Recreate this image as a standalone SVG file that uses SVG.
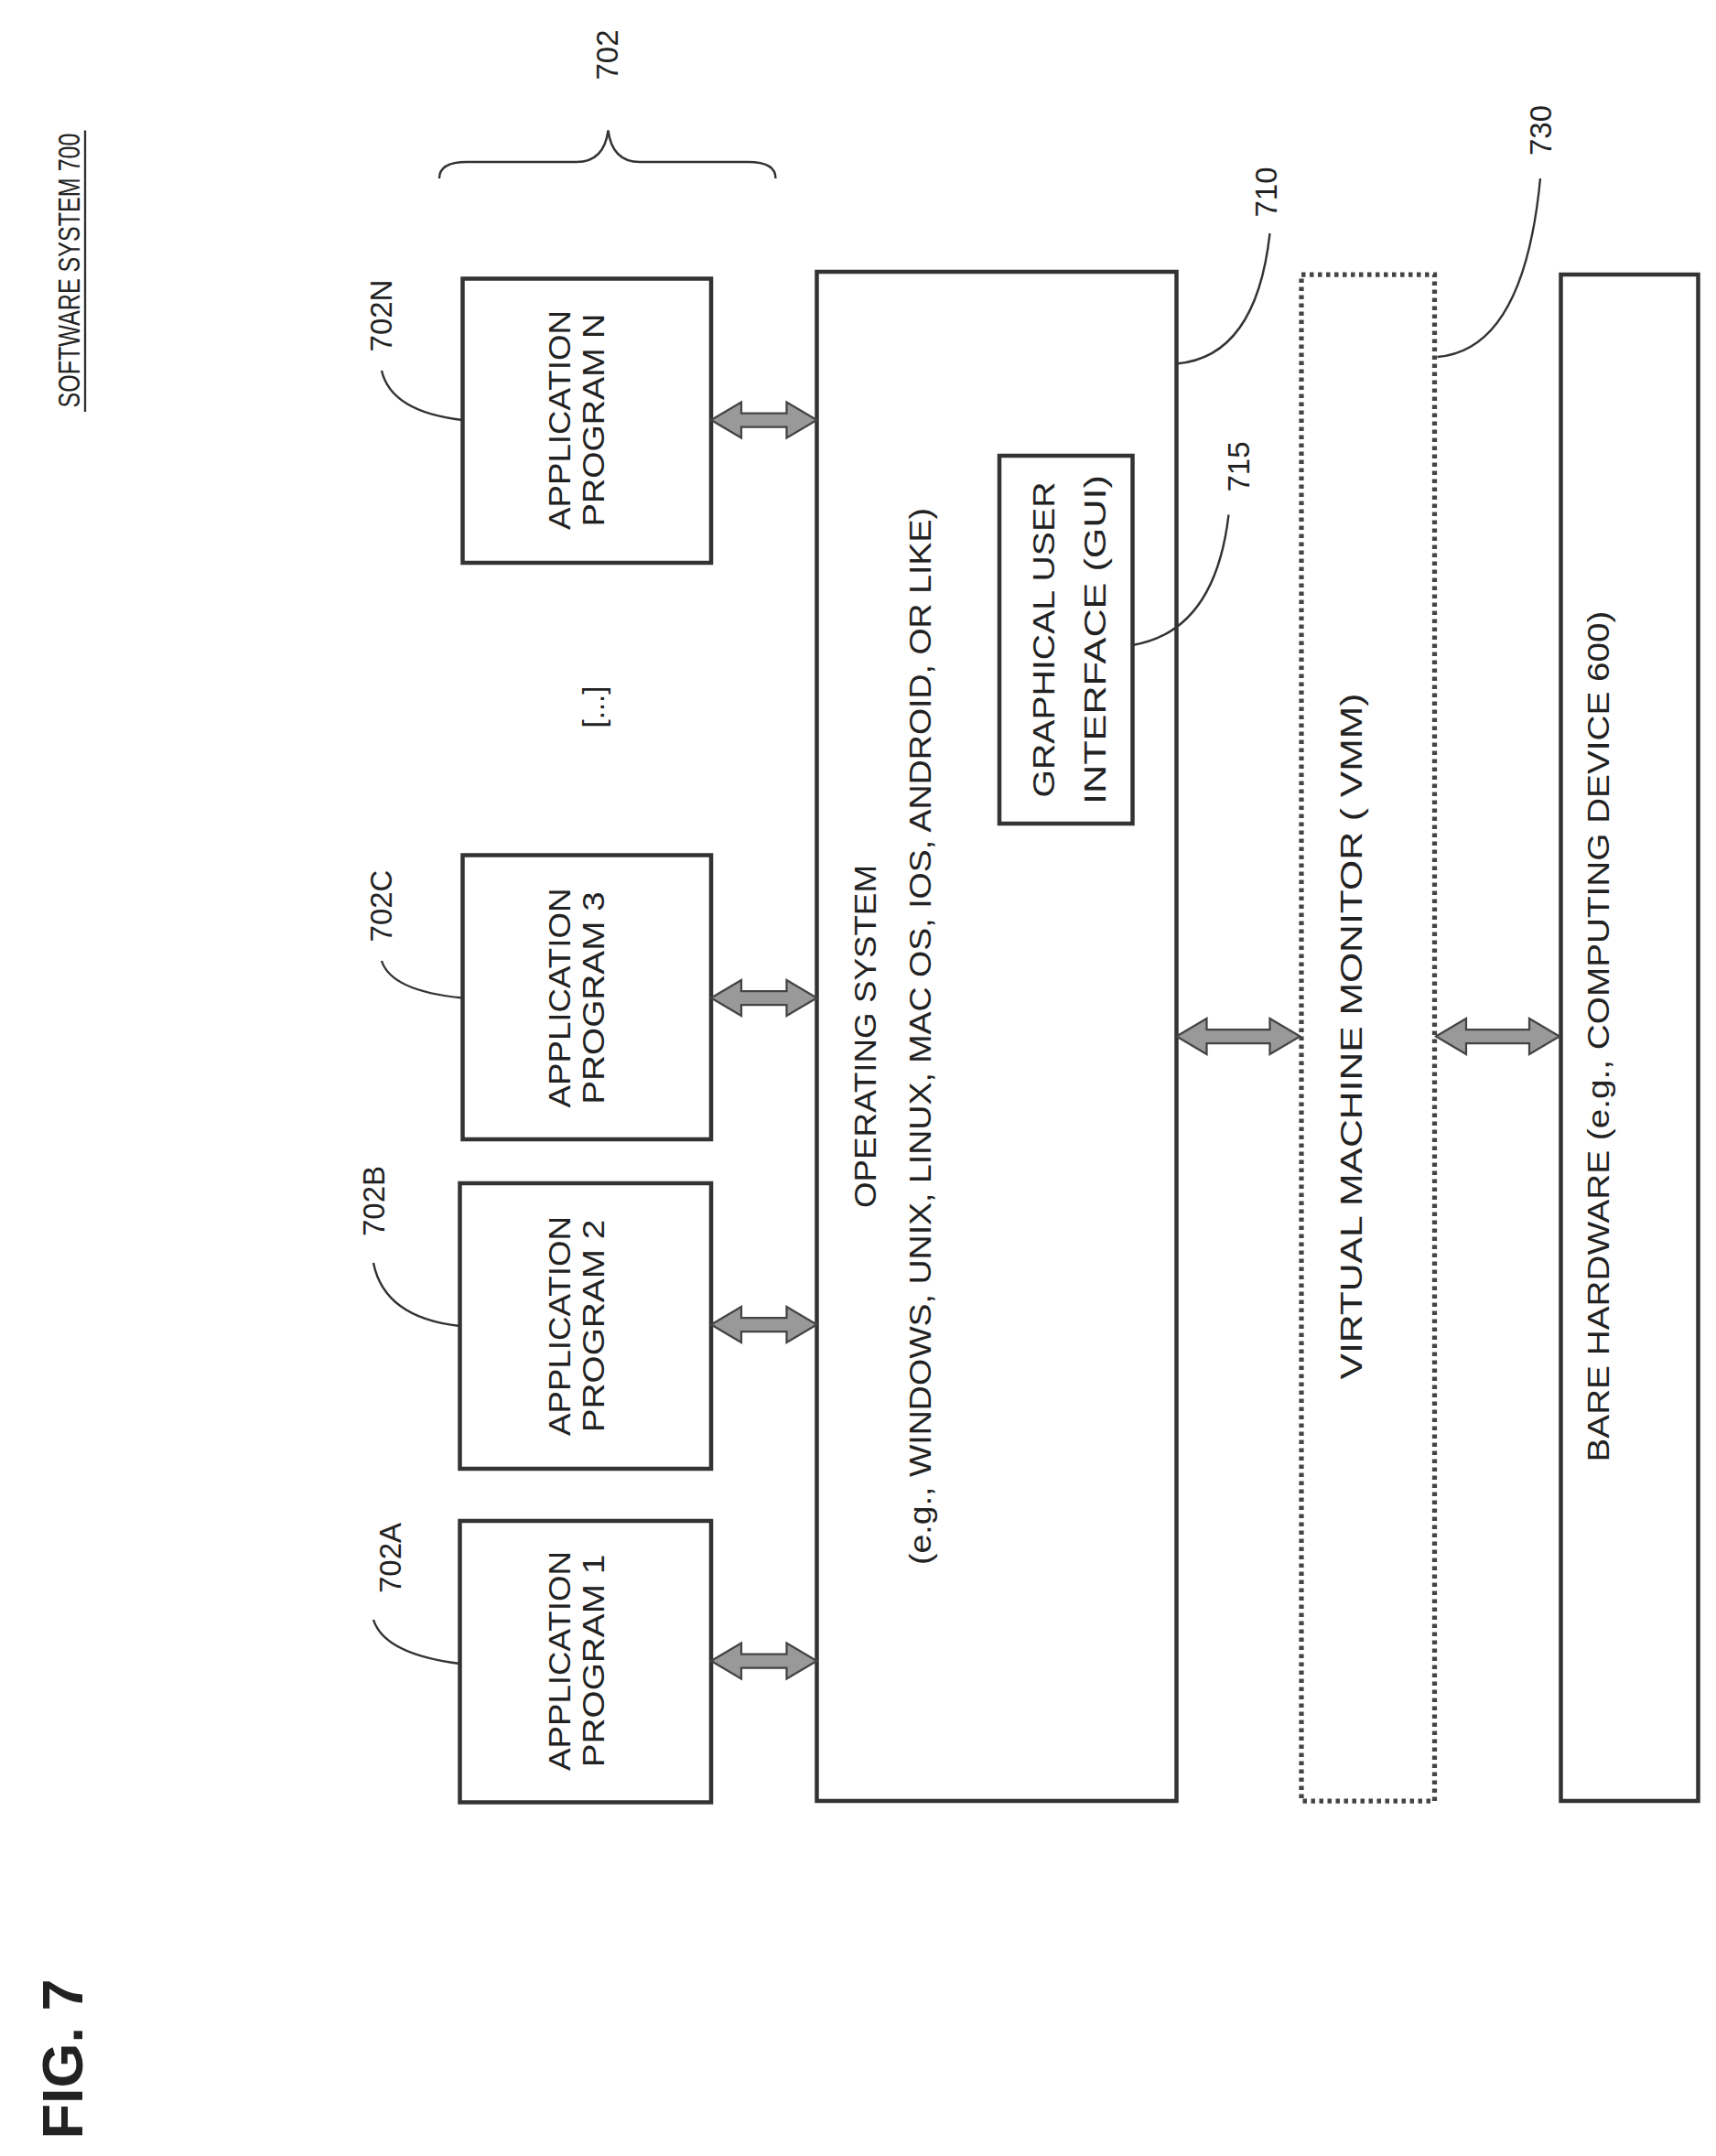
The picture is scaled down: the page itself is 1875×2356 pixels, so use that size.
<svg xmlns="http://www.w3.org/2000/svg" width="1875" height="2356" viewBox="0 0 1875 2356">
<style>
.b{fill:none;stroke:#333;stroke-width:3}
.d{fill:none;stroke:#444;stroke-width:3.5;stroke-dasharray:3 3}
.l{fill:none;stroke:#333;stroke-width:1.6}
.t{font-family:"Liberation Sans",Arial,sans-serif;font-size:22px;fill:#222;text-anchor:middle}
.a{fill:#999;stroke:#444;stroke-width:1.5}
</style>
<defs>
<polygon id="a77" class="a" points="0,0 22,-13 22,-5 55,-5 55,-13 77,0 55,13 55,5 22,5 22,13"/>
<polygon id="a90" class="a" points="0,0 22,-13 22,-5 68,-5 68,-13 90,0 68,13 68,5 22,5 22,13"/>
</defs>
<rect width="1875" height="2356" fill="#fff"/>
<g transform="scale(1.5)">
<g id="title">
<text class="t" transform="translate(58,197) rotate(-90)" textLength="200" lengthAdjust="spacingAndGlyphs">SOFTWARE SYSTEM 700</text>
<line x1="62" y1="95" x2="62" y2="300" class="l"/>
<text class="t" style="font-size:42px;font-weight:bold" transform="translate(60,1500) rotate(-90)">FIG. 7</text>
</g>
<g id="brace">
<path class="l" d="M320,130 Q320,118 340,118 L420,118 Q440,118 443,95 Q446,118 466,118 L545,118 Q565,118 565,130"/>
<text class="t" transform="translate(450,40) rotate(-90)">702</text>
</g>
<g id="app1">
<rect class="b" x="335" y="1108" width="183" height="205"/>
<text class="t" transform="translate(415,1210) rotate(-90)" textLength="160" lengthAdjust="spacingAndGlyphs">APPLICATION</text>
<text class="t" transform="translate(440,1210) rotate(-90)" textLength="155" lengthAdjust="spacingAndGlyphs">PROGRAM 1</text>
<text class="t" transform="translate(292,1135) rotate(-90)">702A</text>
<path class="l" d="M272,1180 Q280,1205 335,1212"/>
</g>
<g id="app2">
<rect class="b" x="335" y="862" width="183" height="208"/>
<text class="t" transform="translate(415,966) rotate(-90)" textLength="160" lengthAdjust="spacingAndGlyphs">APPLICATION</text>
<text class="t" transform="translate(440,966) rotate(-90)" textLength="155" lengthAdjust="spacingAndGlyphs">PROGRAM 2</text>
<text class="t" transform="translate(280,875) rotate(-90)">702B</text>
<path class="l" d="M272,920 Q280,960 335,966"/>
</g>
<g id="app3">
<rect class="b" x="337" y="623" width="181" height="207"/>
<text class="t" transform="translate(415,727) rotate(-90)" textLength="160" lengthAdjust="spacingAndGlyphs">APPLICATION</text>
<text class="t" transform="translate(440,727) rotate(-90)" textLength="155" lengthAdjust="spacingAndGlyphs">PROGRAM 3</text>
<text class="t" transform="translate(285,660) rotate(-90)">702C</text>
<path class="l" d="M278,700 Q285,722 337,727"/>
</g>
<g id="dots"><text class="t" transform="translate(440,515) rotate(-90)">[...]</text></g>
<g id="appN">
<rect class="b" x="337" y="203" width="181" height="207"/>
<text class="t" transform="translate(415,306) rotate(-90)" textLength="160" lengthAdjust="spacingAndGlyphs">APPLICATION</text>
<text class="t" transform="translate(440,306) rotate(-90)" textLength="155" lengthAdjust="spacingAndGlyphs">PROGRAM N</text>
<text class="t" transform="translate(285,230) rotate(-90)">702N</text>
<path class="l" d="M278,270 Q285,300 337,306"/>
</g>
<g id="os">
<rect class="b" x="595" y="198" width="262" height="1114"/>
<text class="t" transform="translate(638,755) rotate(-90)" textLength="250" lengthAdjust="spacingAndGlyphs">OPERATING SYSTEM</text>
<text class="t" transform="translate(678,755) rotate(-90)" textLength="770" lengthAdjust="spacingAndGlyphs">(e.g., WINDOWS, UNIX, LINUX, MAC OS, IOS, ANDROID, OR LIKE)</text>
<text class="t" transform="translate(930,140) rotate(-90)">710</text>
<path class="l" d="M925,170 Q915,260 857,265"/>
</g>
<g id="gui">
<rect class="b" x="728" y="332" width="97" height="268"/>
<text class="t" transform="translate(768,466) rotate(-90)" textLength="230" lengthAdjust="spacingAndGlyphs">GRAPHICAL USER</text>
<text class="t" transform="translate(805,466) rotate(-90)" textLength="240" lengthAdjust="spacingAndGlyphs">INTERFACE (GUI)</text>
<text class="t" transform="translate(910,340) rotate(-90)">715</text>
<path class="l" d="M895,375 Q885,460 825,470"/>
</g>
<g id="vmm">
<rect class="d" x="948" y="200" width="97" height="1112"/>
<text class="t" transform="translate(992,755) rotate(-90)" textLength="500" lengthAdjust="spacingAndGlyphs">VIRTUAL MACHINE MONITOR ( VMM)</text>
<text class="t" transform="translate(1130,95) rotate(-90)">730</text>
<path class="l" d="M1122,130 Q1110,255 1047,260"/>
</g>
<g id="hw">
<rect class="b" x="1137" y="200" width="100" height="1112"/>
<text class="t" transform="translate(1172,755) rotate(-90)" textLength="620" lengthAdjust="spacingAndGlyphs">BARE HARDWARE (e.g., COMPUTING DEVICE 600)</text>
</g>
<g id="connectors">
<use href="#a77" transform="translate(518,1210)"/>
<use href="#a77" transform="translate(518,965)"/>
<use href="#a77" transform="translate(518,727)"/>
<use href="#a77" transform="translate(518,306)"/>
<use href="#a90" transform="translate(857,755)"/>
<use href="#a90" transform="translate(1046,755)"/>
</g>
</g>
</svg>
